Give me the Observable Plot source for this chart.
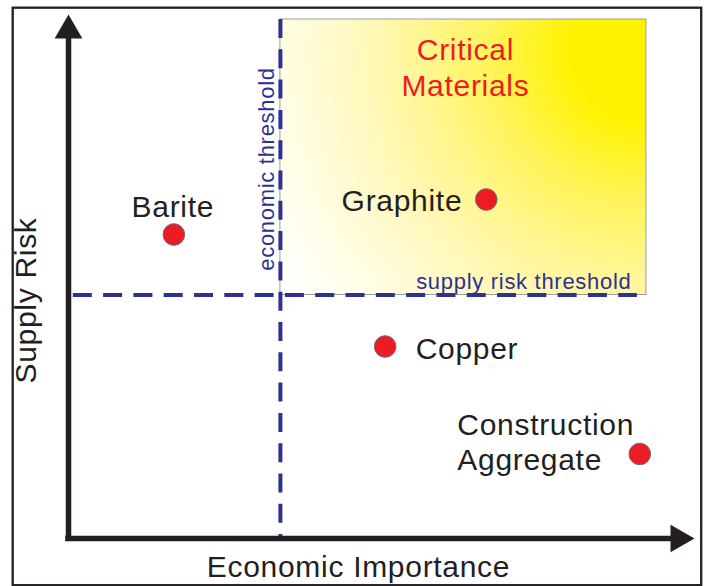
<!DOCTYPE html>
<html>
<head>
<meta charset="utf-8">
<script src="https://cdn.jsdelivr.net/npm/d3@7"></script>
<script src="https://cdn.jsdelivr.net/npm/@observablehq/plot@0.6"></script>
<style>
  html, body { margin: 0; padding: 0; background: #ffffff; }
</style>
</head>
<body>
<div id="chart"></div>
<script>
// ---- data ----
const materials = ["Barite", "Graphite", "Copper", "Construction\nAggregate"];
const economicImportance = [1.75, 6.94, 5.26, 9.49];
const supplyRisk = [6.08, 6.78, 3.84, 1.69];

const economicThreshold = 3.52;
const supplyRiskThreshold = 4.87;
const criticalRegionRight = 9.6;
const criticalRegionTop = 10.38;
const supplyLineEnd = 9.45;
const axisMax = 10;

const regionLabel = "Critical\nMaterials";
const xAxisTitle = "Economic Importance";
const yAxisTitle = "Supply Risk";
const economicThresholdLabel = "economic threshold";
const supplyThresholdLabel = "supply risk threshold";

// ---- build tables ----
const points = materials.map((name, i) => ({name, x: economicImportance[i], y: supplyRisk[i]}));
const region = [{x1: economicThreshold, x2: criticalRegionRight, y1: supplyRiskThreshold, y2: criticalRegionTop, label: regionLabel}];

const ink = "#231f20";
const navy = "#2e3192";
const red = "#ed1c24";
const font = "'Liberation Sans', Arial, Helvetica, sans-serif";

const labelPlacement = {
  "Barite": {textAnchor: "middle", dx: -1, dy: -29},
  "Graphite": {textAnchor: "end", dx: -24, dy: 0},
  "Copper": {textAnchor: "start", dx: 30.5, dy: 1.5},
  "Construction\nAggregate": {textAnchor: "start", dx: -182.5, dy: -13}
};

const labelMarks = points.map(p => Plot.text([p], {
  x: "x", y: "y", text: "name",
  fontSize: 30, fill: ink, lineAnchor: "middle", lineHeight: 1.19,
  ...labelPlacement[p.name]
}));

const svg = Plot.plot({
  width: 704,
  height: 586,
  marginLeft: 68,
  marginRight: 34,
  marginTop: 38,
  marginBottom: 48,
  x: {domain: [0, axisMax], axis: null},
  y: {domain: [0, axisMax], axis: null},
  style: {fontFamily: font, background: "#ffffff", letterSpacing: "0.7px", overflow: "visible"},
  marks: [
    // outer border
    Plot.frame({stroke: ink, strokeWidth: 2.3, insetLeft: -55.8, insetRight: -30.7, insetTop: -30.8, insetBottom: -46.7}),
    // critical region
    Plot.rect(region, {x1: "x1", x2: "x2", y1: "y1", y2: "y2", fill: "url(#critGrad)", stroke: "#9d9d9d", strokeWidth: 1}),
    // thresholds
    Plot.ruleX([economicThreshold], {x: d => d, y1: criticalRegionTop, y2: 0, stroke: navy, strokeWidth: 4, strokeDasharray: "19,11.3"}),
    Plot.ruleY([supplyRiskThreshold], {y: d => d, x1: 0.08, x2: supplyLineEnd, stroke: navy, strokeWidth: 4, strokeDasharray: "19,11.3"}),
    // axes
    Plot.ruleX([0], {x: d => d, y1: 0, y2: axisMax, stroke: ink, strokeWidth: 5.5, strokeLinecap: "square"}),
    Plot.ruleY([0], {y: d => d, x1: 0, x2: axisMax, stroke: ink, strokeWidth: 5.5, strokeLinecap: "square"}),
    Plot.dot([{x: 0, y: axisMax}], {x: "x", y: "y", symbol: "triangle", r: 10.3, fill: ink, stroke: "none", dy: -8}),
    Plot.dot([{x: axisMax, y: 0}], {x: "x", y: "y", symbol: "triangle", r: 10.3, fill: ink, stroke: "none", dx: 8, rotate: 90}),
    // threshold labels
    Plot.text([economicThresholdLabel], {x: economicThreshold, y: supplyRiskThreshold, text: d => d, rotate: -90, textAnchor: "start", lineAnchor: "middle", fontSize: 22, fill: navy, dx: -13.5, dy: -24.3}),
    Plot.text([supplyThresholdLabel], {x: criticalRegionRight, y: supplyRiskThreshold, text: d => d, textAnchor: "end", lineAnchor: "middle", fontSize: 22, fill: navy, dx: -15, dy: -13}),
    // region label
    Plot.text(region, {x: d => (d.x1 + d.x2) / 2, y: "y2", text: "label", textAnchor: "middle", lineAnchor: "middle", lineHeight: 1.2, fontSize: 30, fill: red, dx: 2, dy: 47}),
    // points
    Plot.dot(points, {x: "x", y: "y", r: 10.8, fill: red, stroke: "#6d6e71", strokeWidth: 1}),
    ...labelMarks,
    // axis titles
    Plot.text([xAxisTitle], {frameAnchor: "bottom", text: d => d, textAnchor: "middle", lineAnchor: "middle", fontSize: 30, fill: ink, dx: -11, dy: 28.5}),
    Plot.text([yAxisTitle], {frameAnchor: "left", text: d => d, rotate: -90, textAnchor: "middle", lineAnchor: "middle", fontSize: 30, fill: ink, dx: -42.5, dy: 12})
  ]
});

// radial gradient for the critical region, centred near its top-right corner
const xs = svg.scale("x"), ys = svg.scale("y");
const defs = d3.select(svg).insert("defs", ":first-child");
const grad = defs.append("radialGradient")
  .attr("id", "critGrad")
  .attr("gradientUnits", "userSpaceOnUse")
  .attr("cx", xs.apply(criticalRegionRight) - 6)
  .attr("cy", ys.apply(criticalRegionTop) + 31)
  .attr("r", 470);
[[0, "#fff200"], [0.15, "#fff200"], [0.32, "#fff45a"], [0.48, "#fff698"], [0.62, "#fff9c4"], [0.77, "#fffde6"], [0.9, "#ffffff"], [1, "#ffffff"]]
  .forEach(([o, c]) => grad.append("stop").attr("offset", o).attr("stop-color", c));

document.getElementById("chart").appendChild(svg);
</script>
</body>
</html>
